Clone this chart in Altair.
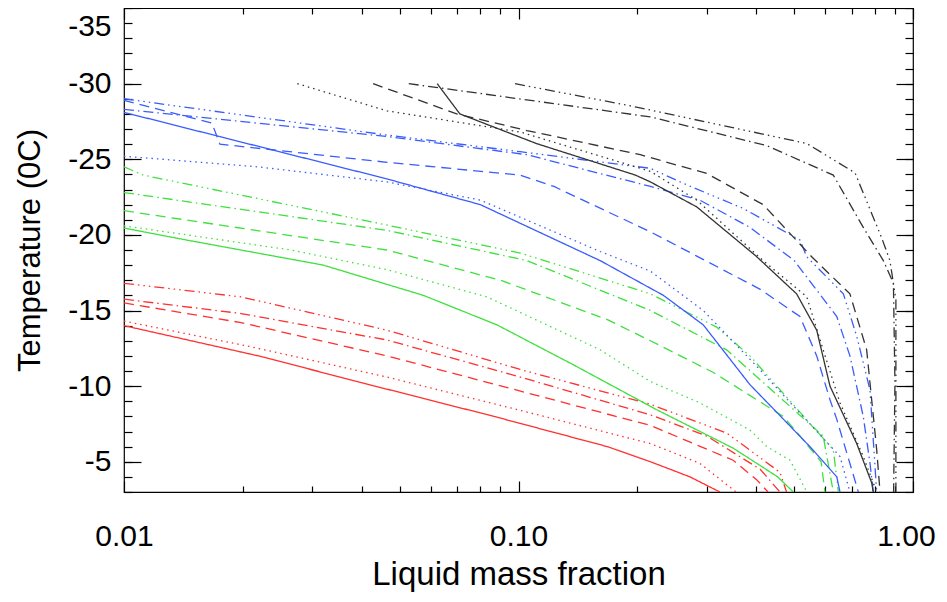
import altair as alt
import pandas as pd

# ---------------- data (temperature in deg C, liquid mass fraction) ----------------
COLOR_NAMES = ["red", "green", "blue", "black"]
COLOR_VALUES = ["#ff3030", "#3ee03e", "#3a5cff", "#333333"]
STYLE_NAMES = ["solid", "dotted", "dashed", "dashdot", "dashdotdotdot"]
STYLE_DASHES = [[1, 0], [1.5, 4], [10, 6], [10, 4, 1.5, 4], [10, 4, 1.5, 4, 1.5, 4, 1.5, 4]]

red_solid_T = [-14.0, -12.0, -10.0, -8.0, -6.0, -5.0, -4.0, -3.0]
red_solid_x = [0.0100, 0.0219, 0.0433, 0.0866, 0.168, 0.216, 0.272, 0.324]
red_dotted_T = [-14.3, -12.6, -10.6, -8.4, -6.2, -4.9, -3.0]
red_dotted_x = [0.0100, 0.0210, 0.0464, 0.101, 0.216, 0.288, 0.356]
red_dashed_T = [-15.5, -14.2, -12.0, -7.4, -5.1, -3.8, -3.0]
red_dashed_x = [0.0100, 0.0198, 0.0464, 0.216, 0.350, 0.402, 0.429]
red_dashdot_T = [-15.75, -14.8, -13.05, -10.6, -8.1, -6.7, -4.5, -3.0]
red_dashdot_x = [0.0100, 0.0198, 0.0464, 0.101, 0.216, 0.300, 0.410, 0.460]
red_dd3_T = [-16.8, -15.9, -13.7, -11.1, -8.8, -6.9, -4.3, -3.0]
red_dd3_x = [0.0100, 0.0198, 0.0464, 0.101, 0.216, 0.337, 0.460, 0.478]

green_solid_T = [-20.45, -19.66, -18.0, -16.0, -14.05, -11.4, -8.44, -5.9, -4.0, -3.0]
green_solid_x = [0.0100, 0.0144, 0.0320, 0.0574, 0.0882, 0.138, 0.224, 0.350, 0.454, 0.497]
green_dotted_T = [-20.6, -19.0, -17.7, -15.9, -12.4, -10.3, -8.9, -7.1, -6.0, -5.1, -3.0]
green_dotted_x = [0.0100, 0.0265, 0.0464, 0.0832, 0.161, 0.216, 0.288, 0.386, 0.426, 0.488, 0.538]
green_dashed_T = [-21.6, -19.0, -17.0, -14.4, -13.0, -10.9, -8.0, -6.7, -5.0, -3.0]
green_dashed_x = [0.0100, 0.0464, 0.0900, 0.168, 0.216, 0.312, 0.469, 0.517, 0.585, 0.598]
green_dashdot_T = [-22.8, -20.3, -18.3, -15.0, -12.4, -6.7, -3.0]
green_dashdot_x = [0.0100, 0.0464, 0.105, 0.216, 0.337, 0.592, 0.628]
green_dd3_T = [-24.5, -23.95, -20.65, -18.8, -16.1, -13.9, -12.0, -5.8, -3.0]
green_dd3_x = [0.0100, 0.0112, 0.0464, 0.101, 0.216, 0.318, 0.386, 0.628, 0.647]

blue_solid_T = [-28.1, -23.7, -22.0, -18.3, -16.0, -14.05, -10.1, -6.0, -4.0, -3.0]
blue_solid_x = [0.0100, 0.0464, 0.0800, 0.161, 0.233, 0.294, 0.386, 0.548, 0.641, 0.653]
blue_dotted_T = [-25.2, -24.5, -23.5, -22.3, -18.9, -17.6, -15.0, -11.3, -5.35, -3.0]
blue_dotted_x = [0.0100, 0.0218, 0.0464, 0.0800, 0.161, 0.216, 0.294, 0.402, 0.653, 0.692]
blue_dashed_T = [-28.9, -27.4, -26.0, -24.8, -23.95, -23.2, -20.2, -18.6, -16.4, -14.6, -12.0, -9.1, -7.8, -3.0]
blue_dashed_x = [0.0100, 0.0167, 0.0175, 0.0464, 0.101, 0.123, 0.216, 0.283, 0.410, 0.517, 0.570, 0.616, 0.641, 0.727]
blue_dashdot_T = [-28.3, -26.5, -25.3, -23.2, -22.3, -20.5, -18.3, -14.6, -12.0, -8.0, -4.9, -3.0]
blue_dashdot_x = [0.0100, 0.0464, 0.105, 0.216, 0.288, 0.386, 0.500, 0.641, 0.692, 0.748, 0.778, 0.793]
blue_dd3_T = [-29.0, -26.6, -25.5, -24.4, -23.4, -21.75, -19.66, -18.55, -16.1, -13.3, -9.75, -3.0]
blue_dd3_x = [0.0100, 0.0464, 0.101, 0.216, 0.262, 0.371, 0.517, 0.538, 0.666, 0.720, 0.778, 0.809]

black_solid_T = [-30.0, -28.0, -26.04, -23.95, -23.5, -21.85, -18.6, -16.1, -13.7, -10.0, -6.2, -3.6, -3.0]
black_solid_x = [0.0622, 0.0710, 0.111, 0.198, 0.216, 0.283, 0.400, 0.507, 0.570, 0.616, 0.720, 0.786, 0.793]
black_dotted_T = [-30.0, -28.2, -26.8, -24.2, -22.3, -18.3, -15.9, -12.4, -8.9, -5.35, -3.0]
black_dotted_x = [0.0275, 0.0464, 0.101, 0.216, 0.283, 0.417, 0.538, 0.592, 0.653, 0.748, 0.809]
black_dashed_T = [-30.0, -28.0, -26.9, -25.3, -24.06, -22.0, -18.5, -16.1, -12.4, -5.8, -3.0]
black_dashed_x = [0.0428, 0.0697, 0.105, 0.2035, 0.300, 0.417, 0.556, 0.692, 0.763, 0.809, 0.825]
black_dashdot_T = [-30.0, -27.8, -25.9, -23.95, -20.5, -18.3, -16.8, -10.2, -3.0]
black_dashdot_x = [0.0527, 0.216, 0.426, 0.628, 0.748, 0.841, 0.892, 0.900, 0.893]
black_dd3_T = [-30.0, -28.45, -26.04, -24.1, -19.8, -18.3, -15.7, -3.0]
black_dd3_x = [0.0980, 0.199, 0.538, 0.713, 0.833, 0.874, 0.905, 0.905]

SERIES = [
    ("red", "solid", red_solid_T, red_solid_x),
    ("red", "dotted", red_dotted_T, red_dotted_x),
    ("red", "dashed", red_dashed_T, red_dashed_x),
    ("red", "dashdot", red_dashdot_T, red_dashdot_x),
    ("red", "dashdotdotdot", red_dd3_T, red_dd3_x),
    ("green", "solid", green_solid_T, green_solid_x),
    ("green", "dotted", green_dotted_T, green_dotted_x),
    ("green", "dashed", green_dashed_T, green_dashed_x),
    ("green", "dashdot", green_dashdot_T, green_dashdot_x),
    ("green", "dashdotdotdot", green_dd3_T, green_dd3_x),
    ("blue", "solid", blue_solid_T, blue_solid_x),
    ("blue", "dotted", blue_dotted_T, blue_dotted_x),
    ("blue", "dashed", blue_dashed_T, blue_dashed_x),
    ("blue", "dashdot", blue_dashdot_T, blue_dashdot_x),
    ("blue", "dashdotdotdot", blue_dd3_T, blue_dd3_x),
    ("black", "solid", black_solid_T, black_solid_x),
    ("black", "dotted", black_dotted_T, black_dotted_x),
    ("black", "dashed", black_dashed_T, black_dashed_x),
    ("black", "dashdot", black_dashdot_T, black_dashdot_x),
    ("black", "dashdotdotdot", black_dd3_T, black_dd3_x),
]

X_LABEL_TICKS = [0.01, 0.1, 1.0]
X_MINOR_TICKS = [0.02, 0.03, 0.04, 0.05, 0.06, 0.07, 0.08, 0.09,
                 0.2, 0.3, 0.4, 0.5, 0.6, 0.7, 0.8, 0.9]
Y_LABEL_TICKS = [-35, -30, -25, -20, -15, -10, -5]
Y_MINOR_TICKS = list(range(-35, -2))

rows = []
for c, s, Ts, xs in SERIES:
    for i, (t, v) in enumerate(zip(Ts, xs)):
        rows.append({"series": f"{c}-{s}", "color": c, "style": s, "T": t, "x": v, "i": i})
df = pd.DataFrame(rows)

W, H = 789, 484
FONT = "Liberation Sans"
xscale = alt.Scale(type="log", domain=[0.01, 1.0], nice=False)
yscale = alt.Scale(domain=[-35, -3], reverse=True, nice=False, zero=False)

main = alt.Chart(df).mark_line(strokeWidth=1.3, clip=True).encode(
    x=alt.X("x:Q", scale=xscale, axis=alt.Axis(
        title="Liquid mass fraction", values=X_LABEL_TICKS, format=".2f",
        labelOffset=alt.condition("datum.value >= 1", alt.value(-7), alt.value(0)),
        ticks=False, domain=False, grid=False, labelFlush=False,
        labelFont=FONT, titleFont=FONT, labelFontSize=30, titleFontSize=33,
        titleFontWeight="normal", labelColor="black", titleColor="black",
        labelPadding=29, titlePadding=7, labelOverlap=False)),
    y=alt.Y("T:Q", scale=yscale, axis=alt.Axis(
        title="Temperature (0C)", values=Y_LABEL_TICKS,
        labelExpr="'-' + abs(datum.value)",
        labelOffset=alt.condition("datum.value <= -35", alt.value(3), alt.value(0)),
        ticks=False, domain=False, grid=False, labelFlush=True,
        labelFont=FONT, titleFont=FONT, labelFontSize=30, titleFontSize=31,
        titleFontWeight="normal", labelColor="black", titleColor="black",
        labelPadding=13, titlePadding=21, labelOverlap=False)),
    color=alt.Color("color:N", scale=alt.Scale(domain=COLOR_NAMES, range=COLOR_VALUES), legend=None),
    strokeDash=alt.StrokeDash("style:N", scale=alt.Scale(domain=STYLE_NAMES, range=STYLE_DASHES), legend=None),
    detail="series:N",
    order=alt.Order("i:Q"),
)


def tick_axis(orient, offset, values, size):
    return alt.Axis(orient=orient, offset=offset, values=values, tickSize=size,
                    ticks=True, labels=False, domain=False, grid=False, title=None,
                    tickColor="black", tickWidth=1.2)


def tick_layer(xaxis, yaxis):
    return alt.Chart(df).mark_line(opacity=0).encode(
        x=alt.X("x:Q", scale=xscale, axis=xaxis),
        y=alt.Y("T:Q", scale=yscale, axis=yaxis),
        detail="series:N",
    )


layers = [
    main,
    tick_layer(tick_axis("top", -H, X_LABEL_TICKS, 11), tick_axis("right", -W, Y_LABEL_TICKS, 17)),
    tick_layer(tick_axis("top", -H, X_MINOR_TICKS, 6), tick_axis("right", -W, Y_MINOR_TICKS, 8)),
    tick_layer(tick_axis("bottom", -H, X_LABEL_TICKS, 11), tick_axis("left", -W, Y_LABEL_TICKS, 17)),
    tick_layer(tick_axis("bottom", -H, X_MINOR_TICKS, 6), tick_axis("left", -W, Y_MINOR_TICKS, 8)),
]

chart = alt.layer(*layers).resolve_axis(x="independent", y="independent").properties(
    width=W, height=H,
    autosize=alt.AutoSizeParams(type="none"),
    padding={"left": 116, "top": 0, "right": 24, "bottom": 100},
    background="white",
).configure_view(stroke="black", strokeWidth=1.2)

chart.save("out.html", embed_options={"renderer": "svg", "actions": False})
